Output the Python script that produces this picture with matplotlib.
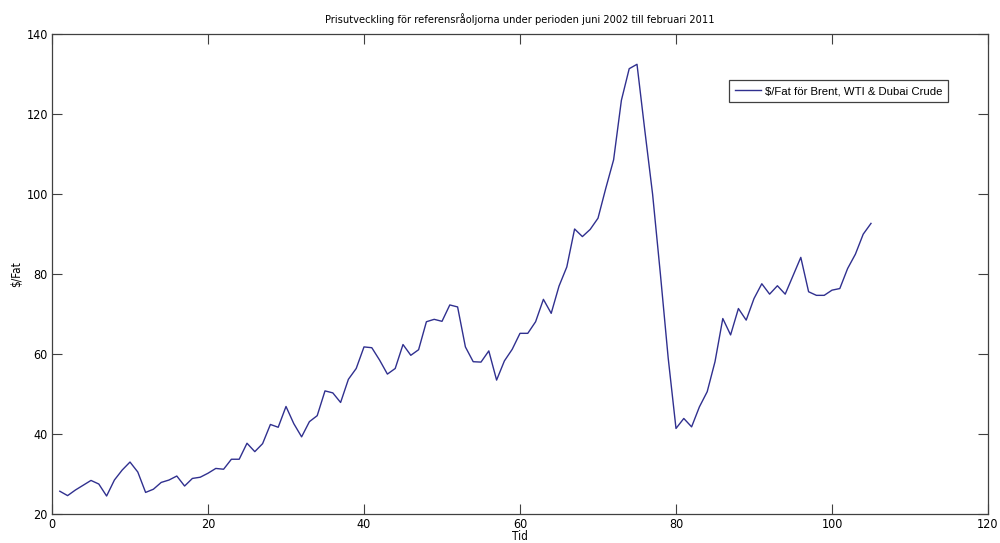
import matplotlib.pyplot as plt
from matplotlib import font_manager

# monthly price index, point 1..105 (juni 2002 - februari 2011)
months = list(range(1, 106))
prices = [
    25.7, 24.6, 26.0, 27.2, 28.4, 27.5, 24.5, 28.5, 31.0, 33.0,
    30.5, 25.4, 26.2, 27.9, 28.5, 29.5, 27.0, 28.9, 29.2, 30.2,
    31.4, 31.2, 33.7, 33.7, 37.7, 35.6, 37.6, 42.4, 41.7, 46.9,
    42.6, 39.3, 43.1, 44.6, 50.8, 50.3, 47.9, 53.7, 56.4, 61.8,
    61.6, 58.5, 55.0, 56.4, 62.4, 59.7, 61.1, 68.1, 68.7, 68.2,
    72.3, 71.8, 61.8, 58.1, 58.0, 60.8, 53.5, 58.3, 61.2, 65.2,
    65.2, 68.1, 73.7, 70.2, 77.0, 81.8, 91.3, 89.4, 91.2, 94.0,
    101.5, 108.6, 123.5, 131.4, 132.5, 116.0, 100.0, 80.0, 59.0, 41.4,
    43.9, 41.8, 46.8, 50.6, 58.1, 68.9, 64.8, 71.4, 68.5, 73.9,
    77.6, 75.0, 77.1, 75.0, 79.6, 84.2, 75.6, 74.7, 74.7, 76.0,
    76.4, 81.4, 85.0, 90.0, 92.7,
]

xticks = [0, 20, 40, 60, 80, 100, 120]
yticks = [20, 40, 60, 80, 100, 120, 140]

# MATLAB draws narrow Helvetica; use a narrow face if there is one
fonts = font_manager.fontManager.ttflist
names = {f.name for f in fonts}
if 'Liberation Sans Narrow' in names:
    font = {'family': 'Liberation Sans Narrow'}
    fs = 8.8
elif any(f.name == 'DejaVu Sans' and 'ondensed' in str(f.stretch) for f in fonts):
    font = {'family': 'DejaVu Sans', 'stretch': 'condensed'}
    fs = 7.9
else:
    font = {'family': 'Liberation Sans'}
    fs = 7.7

plt.rcParams['font.family'] = [font['family'], 'DejaVu Sans']
if 'stretch' in font:
    plt.rcParams['font.stretch'] = font['stretch']

fig = plt.figure(figsize=(10, 5.43), dpi=100)
ax = fig.add_axes([0.052, 0.0534, 0.936, 0.8834])

ax.plot(months, prices, color='#30308f', linewidth=1.0,
        label='$/Fat för Brent, WTI & Dubai Crude')

ax.set_xlim(0, 120)
ax.set_ylim(20, 140)
ax.set_xticks(xticks)
ax.set_yticks(yticks)
ax.tick_params(direction='in', top=True, right=True, length=7,
               width=0.8, color='#404040', labelsize=fs + 1.1, pad=3)
for s in ax.spines.values():
    s.set_color('#404040')
    s.set_linewidth(0.9)

ax.set_title('Prisutveckling för referensråoljorna under perioden juni 2002 till februari 2011',
             fontsize=fs, pad=8)
ax.set_xlabel('Tid', fontsize=fs + 0.5, labelpad=-1)
ax.set_ylabel('$/Fat', fontsize=fs + 0.5, labelpad=2)

leg = ax.legend(loc='upper right', bbox_to_anchor=(0.957, 0.904),
                borderaxespad=0, fancybox=False, framealpha=1,
                edgecolor='#404040', handlelength=2.3, handletextpad=0.3,
                borderpad=0.5, prop={'family': 'Liberation Sans', 'size': 8.2})
leg.get_frame().set_linewidth(0.9)

fig.savefig('out.png', dpi=100)
